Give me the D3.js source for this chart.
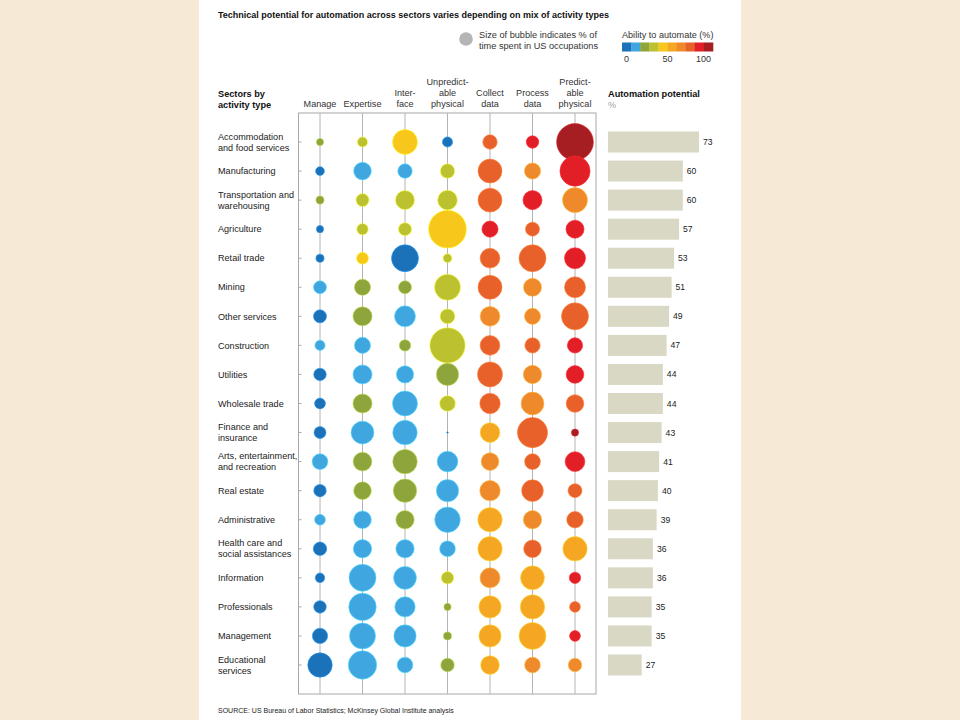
<!DOCTYPE html>
<html>
<head>
<meta charset="utf-8">
<script src="https://cdn.jsdelivr.net/npm/d3@7"></script>
<style>
  body { margin: 0; background: #f6ead6; }
  svg { display: block; font-family: "Liberation Sans", Arial, sans-serif; }
</style>
</head>
<body>
<script>
// Data
var sectors = [
  ["Accommodation", "and food services"],
  ["Manufacturing"],
  ["Transportation and", "warehousing"],
  ["Agriculture"],
  ["Retail trade"],
  ["Mining"],
  ["Other services"],
  ["Construction"],
  ["Utilities"],
  ["Wholesale trade"],
  ["Finance and", "insurance"],
  ["Arts, entertainment,", "and recreation"],
  ["Real estate"],
  ["Administrative"],
  ["Health care and", "social assistances"],
  ["Information"],
  ["Professionals"],
  ["Management"],
  ["Educational", "services"]
];

var activities = [
  ["Manage"],
  ["Expertise"],
  ["Inter-", "face"],
  ["Unpredict-", "able", "physical"],
  ["Collect", "data"],
  ["Process", "data"],
  ["Predict-", "able", "physical"]
];

var automationPotential = [73, 60, 60, 57, 53, 51, 49, 47, 44, 44, 43, 41, 40, 39, 36, 36, 35, 35, 27];

// % of time spent per activity (bubble size), one row per sector
var timeShare = [
  [2, 4, 24, 4, 8, 6, 52],
  [3, 12, 8, 8, 22, 10, 35],
  [2.5, 6.5, 14, 15, 22, 14, 24],
  [2, 5, 6.5, 55, 10, 7.5, 12.5],
  [2.5, 5.5, 28, 3, 15, 28, 17],
  [6.5, 10, 6.5, 26, 22, 12.5, 17],
  [6.5, 14, 17, 8.5, 15, 10, 28],
  [4, 10, 5, 48, 15, 9, 9],
  [6, 14, 11.5, 19, 24, 13, 12],
  [4.5, 14, 24, 9.5, 16, 20, 12],
  [5.5, 20, 23, 0.1, 15, 35, 2],
  [9.5, 13.5, 23, 16.5, 12, 9.5, 15],
  [6, 12, 21, 19, 16, 18, 7.5],
  [4.5, 12, 13, 25, 23, 13, 10.5],
  [7, 13, 13, 9.5, 23, 12, 23],
  [3.5, 28, 20, 6, 15.5, 22, 5],
  [6, 29, 16, 2, 19, 23, 4.5],
  [9, 26, 19, 2.5, 19, 28, 4.5],
  [23, 31, 9.5, 7, 13.5, 9.5, 7]
];

// Ability to automate (%) per activity (bubble colour)
var abilityToAutomate = [
  [25, 35, 45, 5, 75, 85, 95],
  [5, 15, 15, 35, 75, 65, 85],
  [25, 35, 35, 35, 75, 85, 65],
  [5, 35, 35, 45, 85, 75, 85],
  [5, 45, 5, 35, 75, 75, 85],
  [15, 25, 25, 35, 75, 65, 75],
  [5, 25, 15, 35, 65, 65, 75],
  [15, 15, 25, 35, 75, 75, 85],
  [5, 15, 15, 25, 75, 65, 85],
  [5, 25, 15, 35, 75, 65, 75],
  [5, 15, 15, 5, 55, 75, 95],
  [15, 25, 25, 15, 65, 75, 85],
  [5, 25, 25, 15, 65, 75, 75],
  [15, 15, 25, 15, 55, 65, 75],
  [5, 15, 15, 15, 55, 75, 55],
  [5, 15, 15, 35, 65, 55, 85],
  [5, 15, 15, 25, 55, 55, 75],
  [5, 15, 15, 25, 55, 55, 85],
  [5, 15, 15, 25, 55, 65, 65]
];

var legendColors = ["#1b72b8", "#3fa6df", "#8da53b", "#bcc22f", "#f7c81b",
                    "#f5a623", "#ee8a2b", "#e8612a", "#e21f26", "#a61d22"];
var legendTicks = [0, 50, 100];

var width = 960, height = 720;

var svg = d3.select("body").append("svg")
    .attr("width", width)
    .attr("height", height);

// white page on the beige backdrop
svg.append("rect")
    .attr("x", 0).attr("y", 0).attr("width", width).attr("height", height)
    .attr("fill", "#f6ead6");
svg.append("rect")
    .attr("x", 199).attr("y", 0).attr("width", 542).attr("height", height)
    .attr("fill", "#ffffff");

// Scales
var yScale = d3.scalePoint()
  .domain(d3.range(sectors.length))
  .range([142, 665]);
var xScale = d3.scalePoint()
  .domain(d3.range(activities.length))
  .range([320, 575]);
var rScale = d3.scaleSqrt()
  .domain([0, 100])
  .range([0, 25.5]);
var colorScale = d3.scaleQuantize()
  .domain([0, 100])
  .range(legendColors);
var barScale = d3.scaleLinear()
  .domain([0, 100])
  .range([0, 124.7]);

// Title
svg.append("text")
    .attr("x", 218).attr("y", 18)
    .attr("font-size", 9).attr("font-weight", "bold").attr("fill", "#111")
    .text("Technical potential for automation across sectors varies depending on mix of activity types");

// Size legend
svg.append("circle")
    .attr("cx", 466).attr("cy", 39).attr("r", 6.8)
    .attr("fill", "#b5b5b5");
svg.append("text")
    .attr("font-size", 9.2).attr("fill", "#333")
    .selectAll("tspan")
    .data(["Size of bubble indicates % of", "time spent in US occupations"])
  .enter().append("tspan")
    .attr("x", 479)
    .attr("y", function(d, i) { return 38 + i * 11; })
    .text(function(d) { return d; });

// Colour legend
var legendScale = d3.scaleLinear().domain([0, 100]).range([622, 713]);
svg.append("text")
    .attr("x", 622).attr("y", 38)
    .attr("font-size", 9.1).attr("fill", "#333")
    .text("Ability to automate (%)");
svg.selectAll(".legend-cell")
    .data(legendColors)
  .enter().append("rect")
    .attr("class", "legend-cell")
    .attr("x", function(d, i) { return legendScale(i * 10); })
    .attr("y", 42.5)
    .attr("width", legendScale(10) - legendScale(0) + 0.3)
    .attr("height", 9)
    .attr("fill", function(d) { return d; });
svg.selectAll(".legend-tick")
    .data(legendTicks)
  .enter().append("text")
    .attr("class", "legend-tick")
    .attr("x", function(d, i) { return legendScale(d) + (i === 0 ? 2 : (i === 2 ? -2 : 0)); })
    .attr("y", 62)
    .attr("font-size", 9).attr("fill", "#333")
    .attr("text-anchor", function(d, i) { return i === 0 ? "start" : (i === 2 ? "end" : "middle"); })
    .text(function(d) { return d; });

// Header texts
svg.append("text")
    .attr("font-size", 9.2).attr("font-weight", "bold").attr("fill", "#111")
    .selectAll("tspan")
    .data(["Sectors by", "activity type"])
  .enter().append("tspan")
    .attr("x", 218)
    .attr("y", function(d, i) { return 96.5 + i * 11.5; })
    .text(function(d) { return d; });

svg.append("text")
    .attr("x", 608).attr("y", 96.5)
    .attr("font-size", 9.2).attr("font-weight", "bold").attr("fill", "#111")
    .text("Automation potential");
svg.append("text")
    .attr("x", 608).attr("y", 108)
    .attr("font-size", 9).attr("fill", "#a0a0a0")
    .text("%");

// Column headers, bottom-aligned
var colHead = svg.selectAll(".col-head")
    .data(activities)
  .enter().append("text")
    .attr("class", "col-head")
    .attr("font-size", 9.1).attr("fill", "#333")
    .attr("text-anchor", "middle");
colHead.selectAll("tspan")
    .data(function(d, i) { return d.map(function(t, j) { return {t: t, j: j, n: d.length, col: i}; }); })
  .enter().append("tspan")
    .attr("x", function(d) { return xScale(d.col); })
    .attr("y", function(d) { return 107 - (d.n - 1 - d.j) * 11; })
    .text(function(d) { return d.t; });

// Plot frame
var plotTop = 113, plotBottom = 694, plotLeft = 298.5, plotRight = 596;
svg.append("rect")
    .attr("x", plotLeft).attr("y", plotTop)
    .attr("width", plotRight - plotLeft).attr("height", plotBottom - plotTop)
    .attr("fill", "none").attr("stroke", "#a8a8a8").attr("stroke-width", 1);

// Column guide lines
svg.selectAll(".guide")
    .data(activities)
  .enter().append("line")
    .attr("class", "guide")
    .attr("x1", function(d, i) { return xScale(i); })
    .attr("x2", function(d, i) { return xScale(i); })
    .attr("y1", plotTop).attr("y2", plotBottom)
    .attr("stroke", "#b4b4b4").attr("stroke-width", 1);

// Row ticks on the left side of the frame
svg.selectAll(".row-tick")
    .data(sectors)
  .enter().append("line")
    .attr("class", "row-tick")
    .attr("x1", plotLeft).attr("x2", plotLeft + 3)
    .attr("y1", function(d, i) { return yScale(i); })
    .attr("y2", function(d, i) { return yScale(i); })
    .attr("stroke", "#a8a8a8");

// Sector labels
var rowLabel = svg.selectAll(".row-label")
    .data(sectors)
  .enter().append("text")
    .attr("class", "row-label")
    .attr("font-size", 9.1).attr("fill", "#222");
rowLabel.selectAll("tspan")
    .data(function(d, i) { return d.map(function(t, j) { return {t: t, j: j, n: d.length, row: i}; }); })
  .enter().append("tspan")
    .attr("x", 218)
    .attr("y", function(d) { return yScale(d.row) + 3.2 + (d.j - (d.n - 1) / 2) * 11; })
    .text(function(d) { return d.t; });

// Bubbles
var bubbles = [];
for (var i = 0; i < sectors.length; ++i) {
  for (var j = 0; j < activities.length; ++j) {
    bubbles.push({row: i, col: j, share: timeShare[i][j], ability: abilityToAutomate[i][j]});
  }
}

svg.selectAll(".bubble")
    .data(bubbles)
  .enter().append("circle")
    .attr("class", "bubble")
    .attr("cx", function(d) { return xScale(d.col); })
    .attr("cy", function(d) { return yScale(d.row); })
    .attr("r", function(d) { return Math.max(rScale(d.share), 0.8); })
    .attr("fill", function(d) { return colorScale(d.ability); })
    .attr("stroke", function(d) { return d3.color(colorScale(d.ability)).brighter(0.8); })
    .attr("stroke-opacity", 0.6)
    .attr("stroke-width", 1);

// Automation potential bars
svg.selectAll(".bar")
    .data(automationPotential)
  .enter().append("rect")
    .attr("class", "bar")
    .attr("x", 608)
    .attr("y", function(d, i) { return yScale(i) - 10.5; })
    .attr("width", function(d) { return barScale(d); })
    .attr("height", 21)
    .attr("fill", "#d9d8c4");

svg.selectAll(".bar-label")
    .data(automationPotential)
  .enter().append("text")
    .attr("class", "bar-label")
    .attr("x", function(d) { return 608 + barScale(d) + 4; })
    .attr("y", function(d, i) { return yScale(i) + 3; })
    .attr("font-size", 8.6).attr("fill", "#222")
    .text(function(d) { return d; });

// Source
svg.append("text")
    .attr("x", 218).attr("y", 713)
    .attr("font-size", 7).attr("fill", "#222")
    .text("SOURCE:  US Bureau of Labor Statistics; McKinsey Global Institute analysis");
</script>
</body>
</html>
